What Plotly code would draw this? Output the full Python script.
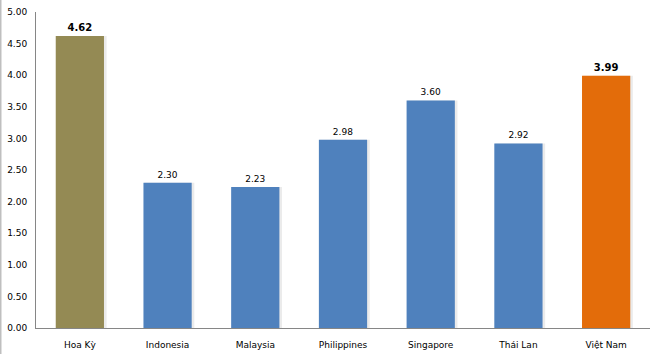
import plotly.graph_objects as go

categories = ["Hoa Kỳ", "Indonesia", "Malaysia", "Philippines", "Singapore", "Thái Lan", "Việt Nam"]
values = [4.62, 2.30, 2.23, 2.98, 3.60, 2.92, 3.99]
colors = ["#948A54", "#4F81BD", "#4F81BD", "#4F81BD", "#4F81BD", "#4F81BD", "#E36C0A"]
bold = [True, False, False, False, False, False, True]
tick_vals = [0, 0.5, 1, 1.5, 2, 2.5, 3, 3.5, 4, 4.5, 5]

texts = [f"<b>{v:.2f}</b>" if b else f"{v:.2f}" for v, b in zip(values, bold)]
sizes = [10 if b else 9 for b in bold]

fig = go.Figure()
# soft shadow
fig.add_trace(go.Bar(x=categories, y=values, marker=dict(color="rgba(0,0,0,0.08)", line=dict(width=0)),
                     width=0.57, offset=-0.265, hoverinfo="skip", showlegend=False))
fig.add_trace(go.Bar(x=categories, y=values, marker=dict(color=colors, line=dict(width=0)),
                     width=0.55, offset=-0.275,
                     text=texts, textposition="outside", cliponaxis=False,
                     textfont=dict(family="DejaVu Sans", size=sizes, color="#000000"),
                     showlegend=False))

fig.update_layout(
    width=650, height=354,
    margin=dict(l=36, r=0, t=12, b=26),
    paper_bgcolor="white", plot_bgcolor="white",
    barmode="overlay",
    font=dict(family="DejaVu Sans", size=9, color="#000000"),
    xaxis=dict(showline=True, linecolor="#868686", linewidth=1, ticks="", showgrid=False,
               tickfont=dict(size=9), ticklabelstandoff=8),
    yaxis=dict(range=[0, 5], tickvals=tick_vals, tickformat=".2f", showline=True,
               linecolor="#868686", linewidth=1, showgrid=False, ticks="",
               tickfont=dict(size=9), ticklabelstandoff=6),
)
fig.add_shape(type="line", xref="paper", yref="paper", x0=-36/614, x1=-36/614, y0=-1, y1=2,
              line=dict(color="#BFBFBF", width=3))
fig.write_html("out.html")
